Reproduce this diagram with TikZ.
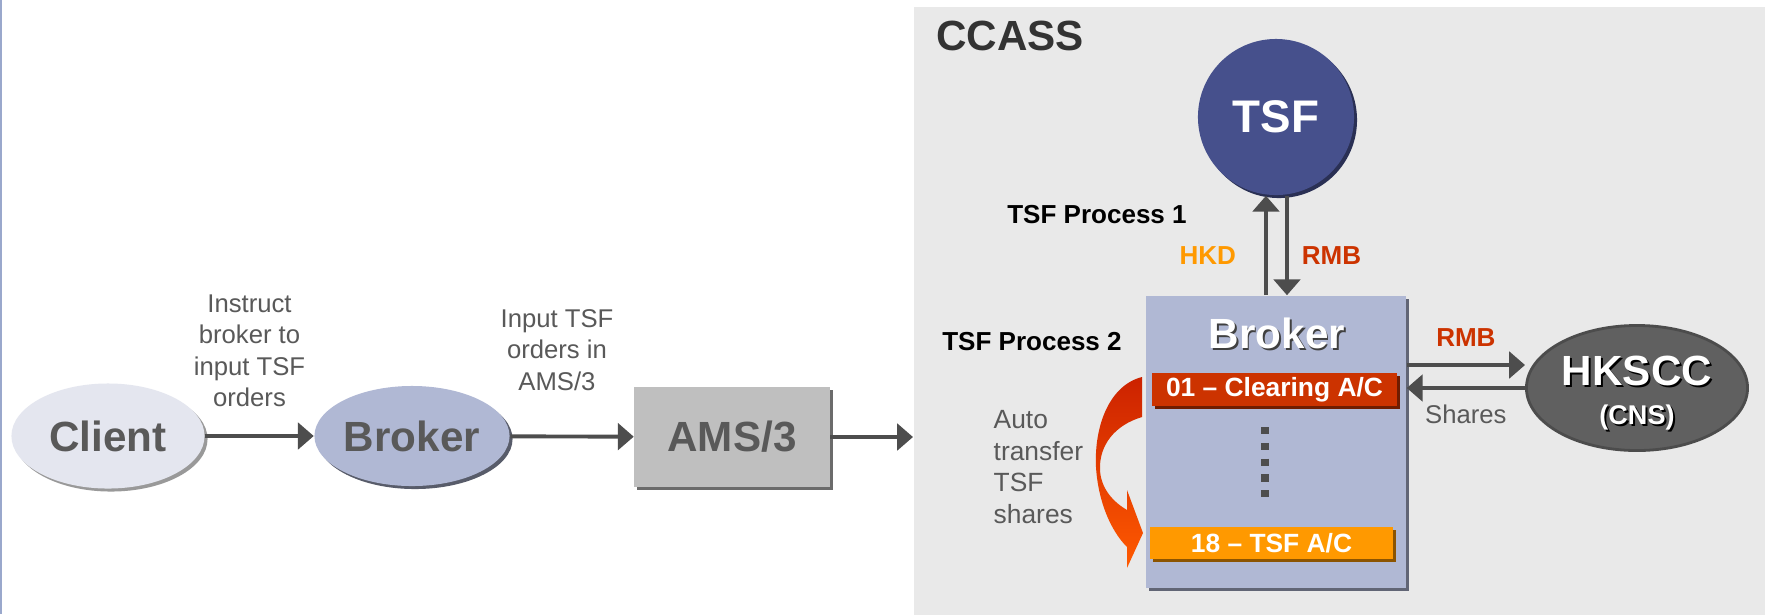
\documentclass[tikz,border=0pt]{standalone}
\usepackage{fontspec}
\setmainfont{Liberation Sans}
\usepackage{xcolor}
\usetikzlibrary{shapes.geometric}
\usetikzlibrary{positioning}
\usetikzlibrary{arrows.meta}
\usetikzlibrary{shadows}
\usetikzlibrary{calc}

\definecolor{arrgray}{HTML}{4D4D4D}
\definecolor{txtgray}{HTML}{595959}
\definecolor{ccassbg}{HTML}{E9E9E9}
\definecolor{tsfblue}{HTML}{46508C}
\definecolor{bkblue}{HTML}{B0B8D4}
\definecolor{clientbg}{HTML}{E4E6EF}
\definecolor{rmbred}{HTML}{CC3300}
\definecolor{hkdorange}{HTML}{FF9900}
\definecolor{hkgray}{HTML}{606060}
\definecolor{leftblue}{HTML}{9AA8CC}
\definecolor{autored}{HTML}{CC2200}
\definecolor{autoorange}{HTML}{FF5A00}

\begin{document}
\begin{tikzpicture}[x=0.01cm, y=-0.01cm,
    arr/.style={-{Triangle[length=4.5pt,width=7.5pt]}, line width=1.1pt, draw=arrgray},
    lbl/.style={text=txtgray, align=center, inner sep=0pt, font=\fontsize{7.3}{8.95}\selectfont},
    boldlbl/.style={inner sep=0pt, font=\bfseries\fontsize{7.4}{9}\selectfont},
    bigtxt/.style={font=\bfseries\fontsize{12}{14}\selectfont},
    shadowed/.style={drop shadow={shadow xshift=0.03cm, shadow yshift=-0.03cm, fill=#1, opacity=1}}]

    \useasboundingbox (0,0) rectangle (1765,614);
    \fill[white] (0,0) rectangle (1765,614);
    \draw[leftblue, line width=0.6pt] (0.5,0) -- (0.5,614);

    % CCASS area
    \node[fill=ccassbg, minimum width=8.52cm, minimum height=6.08cm, inner sep=0, anchor=north west] (ccass) at (913,6) {};
    \node[anchor=base west, text=black!80, bigtxt] (ccasslbl) at (924,50) {CCASS};

    % order chain
    \node[ellipse, fill=clientbg, shadowed=black!40, minimum width=1.93cm, minimum height=1.05cm, inner sep=0, text=txtgray, bigtxt] (client) at (108,436) {Client};
    \node[ellipse, fill=bkblue, shadowed=bkblue!50!black, minimum width=1.95cm, minimum height=1.0cm, inner sep=0, text=txtgray, bigtxt] (broker) at (412,436) {Broker};
    \node[rectangle, fill=black!25, shadowed=black!58, minimum width=1.95cm, minimum height=0.99cm, inner sep=0, text=txtgray, bigtxt] (ams) at (732,437) {AMS/3};

    \draw[arr] (client) -- node[lbl, above=0.27cm, xshift=-0.1cm] (instrlbl) {Instruct\\broker to\\input TSF\\orders} (broker);
    \draw[arr] (broker) -- node[lbl, above=0.44cm, xshift=-0.15cm] (inputlbl) {Input TSF\\orders in\\AMS/3} (ams);
    \draw[arr] (ams) -- (ams -| ccass.west);

    % TSF and broker accounts
    \node[circle, fill=tsfblue, shadowed=tsfblue!60!black, minimum size=1.56cm, inner sep=0, text=white, font=\bfseries\fontsize{13}{15}\selectfont] (tsf) at (1276,117) {TSF};
    \node[fill=bkblue, shadowed=bkblue!55!black, minimum width=2.6cm, minimum height=2.92cm, inner sep=0] (bkbox) at (1276,442) {};
    \node[text=black!75, bigtxt] (bktitlesh) at (1278.5,335.5) {Broker};
    \node[text=white, bigtxt] (bktitle) at (1277,333) {Broker};

    \node[fill=rmbred, shadowed=rmbred!55!black, minimum width=2.45cm, minimum height=0.33cm, inner sep=0, text=white, font=\bfseries\fontsize{7.5}{9}\selectfont] (clearing) at (1274.5,389.5) {01 \textendash{} Clearing A/C};
    \node[fill=hkdorange, shadowed=hkdorange!55!black, minimum width=2.43cm, minimum height=0.32cm, inner sep=0, text=white, font=\bfseries\fontsize{7.5}{9}\selectfont] (tsfac) at (1271.5,543) {18 \textendash{} TSF A/C};
    \draw[arrgray, line width=2pt, dash pattern=on 2pt off 2.5pt] (1265,427) -- (1265,497);

    \draw[arr] ([xshift=-0.1cm]bkbox.north) -- node[pos=0.4, left=0.28cm, text=hkdorange, boldlbl] (hkdlbl) {HKD} ([xshift=-0.1cm]tsf.south);
    \draw[arr] ([xshift=0.11cm]tsf.south) -- node[pos=0.6, right=0.13cm, text=rmbred, boldlbl] (rmbdown) {RMB} ([xshift=0.11cm]bkbox.north);

    \node[boldlbl] (proc1) at (1097,215) {TSF Process 1};
    \node[boldlbl] (proc2) at (1032,342) {TSF Process 2};
    \node[lbl, align=left, anchor=west, font=\fontsize{7.5}{9}\selectfont] (autolbl) at (993,467) {Auto\\transfer\\TSF\\shares};

    % auto transfer arrow
    \shade[top color=autored, bottom color=autoorange] (1142,377) .. controls (1110,385) and (1094,425) .. (1096,467)
        .. controls (1098,500) and (1110,530) .. (1127,547) -- (1127,568) -- (1143,533) -- (1127,490) -- (1127,510)
        .. controls (1115,503) and (1101,490) .. (1100,470) .. controls (1099,445) and (1115,425) .. (1142,417) -- cycle;

    % HKSCC
    \node[ellipse, fill=hkgray, draw=black!70, line width=0.8pt, minimum width=2.21cm, minimum height=1.25cm, inner sep=0] (hkscc) at (1637,388) {};
    \node[text=black, align=center, font=\bfseries\fontsize{12}{11}\selectfont] (hksccsh) at (1639,395) {HKSCC\\{\fontsize{7.7}{11}\selectfont (CNS)}};
    \node[text=white, align=center, font=\bfseries\fontsize{12}{11}\selectfont] (hkscctxt) at (1637,393) {HKSCC\\{\fontsize{7.7}{11}\selectfont (CNS)}};

    \draw[arr] ($(bkbox.east |- hkscc.west)+(0,-23)$) -- node[above=0.17cm, text=rmbred, boldlbl] (rmbright) {RMB} ($(hkscc.west)+(0,-23)$);
    \draw[arr] (hkscc.west) -- node[below=0.15cm, lbl] (shareslbl) {Shares} (bkbox.east |- hkscc.west);
\end{tikzpicture}
\end{document}
